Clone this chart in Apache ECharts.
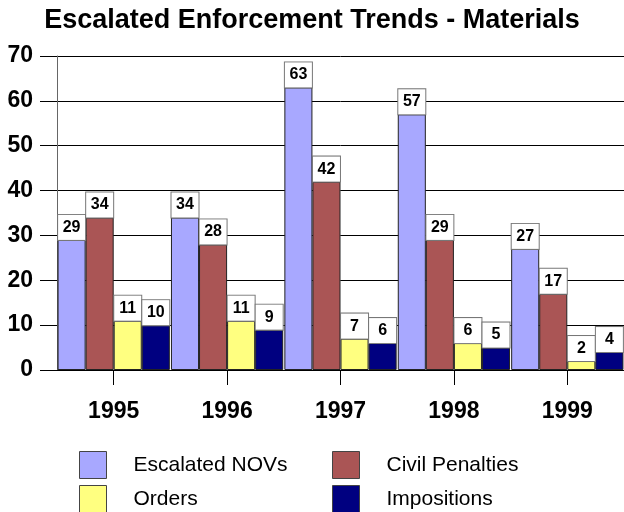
<!DOCTYPE html>
<html><head><meta charset="utf-8">
<script src="https://cdn.jsdelivr.net/npm/echarts@6/dist/echarts.min.js"></script>
<style>html,body{margin:0;padding:0;background:#fff}#c{width:624px;height:512px}</style>
</head><body><div id="c"></div>
<script>
const categories = ['1995','1996','1997','1998','1999'];
const escalatedNOVs = [29, 34, 63, 57, 27];
const civilPenalties = [34, 28, 42, 29, 17];
const orders = [11, 11, 7, 6, 2];
const impositions = [10, 9, 6, 5, 4];
const yTicks = {min: 0, max: 70, interval: 10};

const F = 'Arial, "Liberation Sans", sans-serif';
const chart = echarts.init(document.getElementById('c'), null, {renderer: 'canvas'});
const lbl = {
  show: true, position: 'top', distance: 0,
  fontFamily: F, fontWeight: 'bold', fontSize: 16, color: '#000',
  backgroundColor: '#fff', borderColor: '#777', borderWidth: 1,
  width: 27, height: 25, lineHeight: 25, align: 'center', padding: 0
};
function s(name, data, color) {
  return {
    name, type: 'bar', data, barGap: '0%', barCategoryGap: '1%',
    itemStyle: {color, borderColor: '#222', borderWidth: 1},
    label: lbl
  };
}
function leg(name, left, top) {
  return {
    data: [name], left, top, padding: 0,
    itemWidth: 27, itemHeight: 27, icon: 'rect',
    itemStyle: {borderColor: '#444', borderWidth: 1},
    textStyle: {fontFamily: F, fontSize: 21, color: '#000', padding: [0, 0, 0, 22]}
  };
}
chart.setOption({
  animation: false,
  title: {
    text: 'Escalated Enforcement Trends - Materials', left: 'center', top: 2,
    textStyle: {fontFamily: F, fontWeight: 'bold', fontSize: 27, color: '#000'}
  },
  grid: {left: 57, right: 0, top: 56, bottom: 142, containLabel: false},
  legend: [
    leg('Escalated NOVs', 79, 451),
    leg('Orders', 79, 485),
    leg('Civil Penalties', 332, 451),
    leg('Impositions', 332, 485)
  ],
  xAxis: {
    type: 'category', data: categories,
    axisLine: {show: true, lineStyle: {color: '#000', width: 1}},
    axisTick: {show: true, alignWithLabel: true, length: 15, lineStyle: {color: '#000'}},
    axisLabel: {fontFamily: F, fontWeight: 'bold', fontSize: 23, color: '#000', margin: 30},
    splitLine: {show: false}
  },
  yAxis: {
    type: 'value', min: yTicks.min, max: yTicks.max, interval: yTicks.interval,
    axisLine: {show: true, lineStyle: {color: '#666', width: 1}},
    axisTick: {show: true, length: 17, lineStyle: {color: '#000'}},
    axisLabel: {fontFamily: F, fontWeight: 'bold', fontSize: 23, color: '#000', margin: 24},
    splitLine: {show: true, lineStyle: {color: '#000', width: 1}}
  },
  series: [
    s('Escalated NOVs', escalatedNOVs, '#a8a8ff'),
    s('Civil Penalties', civilPenalties, '#aa5555'),
    s('Orders', orders, '#ffff80'),
    s('Impositions', impositions, '#000080')
  ]
});
</script></body></html>
